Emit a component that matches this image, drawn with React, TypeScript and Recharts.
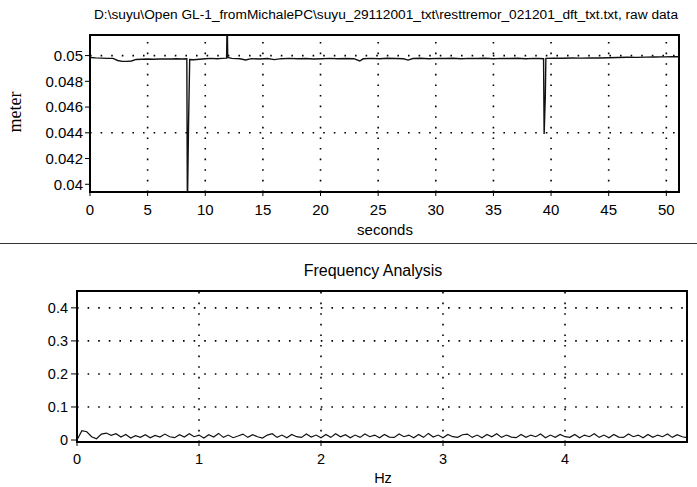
import React from 'react';
import { LineChart, Line, XAxis, YAxis, ReferenceLine, ReferenceArea } from 'recharts';

// raw data (seconds / meter)
const rawTime = [
  0, 0.5, 1, 1.5, 2, 2.4, 2.8, 3.2, 3.6, 4, 4.5, 5, 5.5, 6, 6.5, 7, 7.5, 8, 8.4, 8.45,
  8.55, 8.65, 9, 9.5, 10, 10.5, 11, 11.5, 11.85, 11.9, 11.95, 12.3, 13, 13.5, 14, 14.7,
  15.4, 16, 16.6, 17.3, 18, 18.7, 19.4, 20.1, 20.8, 21.5, 22.2, 22.9, 23.4, 23.7, 24.4,
  25.1, 25.8, 26.5, 27.2, 27.6, 28, 28.7, 29.4, 30.1, 30.8, 31.5, 32.2, 32.9, 33.6, 34.3,
  35, 35.7, 36.4, 37.1, 37.8, 38.5, 39, 39.35, 39.4, 39.5, 39.55, 40.2, 41, 41.8, 42.6,
  43.4, 44.2, 45, 45.8, 46.6, 47.4, 48.2, 49, 49.8, 50.5, 51.1,
];
const rawMeter = [
  0.04985, 0.04982, 0.0498, 0.04978, 0.04978, 0.04962, 0.04955, 0.04955, 0.04958, 0.0497,
  0.04972, 0.04973, 0.04972, 0.04974, 0.04973, 0.04974, 0.04975, 0.04974, 0.04975, 0.038,
  0.0447, 0.0497, 0.04968, 0.04972, 0.04975, 0.04978, 0.04976, 0.04978, 0.0498, 0.053,
  0.04985, 0.04978, 0.04975, 0.04966, 0.04976, 0.04974, 0.04977, 0.04969, 0.04976, 0.04978,
  0.04975, 0.04977, 0.04974, 0.04976, 0.04978, 0.04975, 0.04977, 0.04976, 0.04958, 0.04975,
  0.04978, 0.04976, 0.04979, 0.04977, 0.04975, 0.04965, 0.04977, 0.04979, 0.04976, 0.04978,
  0.04977, 0.04979, 0.04976, 0.04978, 0.04977, 0.04979, 0.04976, 0.04978, 0.04977, 0.04979,
  0.04976, 0.04978, 0.04977, 0.04976, 0.0439, 0.0468, 0.04978, 0.0498, 0.04979, 0.04981,
  0.0498, 0.04982, 0.04981, 0.04983, 0.04985, 0.04987, 0.04986, 0.04988, 0.04989, 0.0499,
  0.04991, 0.04991,
];
const rawXTicks = [0, 5, 10, 15, 20, 25, 30, 35, 40, 45, 50];
const rawYTicks = [0.04, 0.042, 0.044, 0.046, 0.048, 0.05];
const rawYGrid = [0.05, 0.044];

// frequency analysis (Hz bins every 0.04)
const FREQ_STEP = 0.04;
const freqAmp = [
  0.000, 0.028, 0.025, 0.010, 0.004, 0.018, 0.021, 0.014, 0.019, 0.009,
  0.017, 0.006, 0.013, 0.008, 0.016, 0.007, 0.014, 0.009, 0.018, 0.010,
  0.007, 0.016, 0.009, 0.019, 0.010, 0.015, 0.006, 0.016, 0.009, 0.020,
  0.008, 0.015, 0.007, 0.012, 0.018, 0.008, 0.016, 0.010, 0.006, 0.015,
  0.019, 0.008, 0.015, 0.007, 0.017, 0.010, 0.008, 0.018, 0.009, 0.015,
  0.007, 0.017, 0.008, 0.019, 0.010, 0.016, 0.007, 0.015, 0.008, 0.018,
  0.010, 0.015, 0.007, 0.017, 0.009, 0.008, 0.018, 0.010, 0.015, 0.007,
  0.017, 0.008, 0.020, 0.009, 0.015, 0.007, 0.017, 0.010, 0.008, 0.016,
  0.018, 0.008, 0.015, 0.007, 0.017, 0.010, 0.019, 0.008, 0.015, 0.009,
  0.007, 0.017, 0.008, 0.015, 0.010, 0.018, 0.007, 0.015, 0.008, 0.017,
  0.010, 0.008, 0.017, 0.007, 0.015, 0.010, 0.019, 0.008, 0.015, 0.007,
  0.017, 0.009, 0.008, 0.018, 0.010, 0.015, 0.007, 0.017, 0.008, 0.015,
  0.010, 0.018, 0.008, 0.016, 0.010, 0.007,
];
const freqXTicks = [0, 1, 2, 3, 4];
const freqYTicks = [0, 0.1, 0.2, 0.3, 0.4];

const RAW_X: [number, number] = [0, 51.1];
const RAW_Y: [number, number] = [0.0394, 0.0516];
const FREQ_X: [number, number] = [0, 5];
const FREQ_Y: [number, number] = [-0.006, 0.451];

const rawData = rawTime.map((t, i) => ({ t, v: rawMeter[i] }));
const freqData = freqAmp.map((a, i) => ({ hz: +(i * FREQ_STEP).toFixed(2), a }));

const FONT = '"Liberation Sans", Arial, sans-serif';
const topTick = { fontFamily: FONT, fontSize: 15, fill: '#000' };
const botTick = { fontFamily: FONT, fontSize: 14.5, fill: '#000' };

const Label = ({ x, y, children, size = 15, font = FONT, rotate = 0 }: any) => (
  <div
    style={{
      position: 'absolute', left: x, top: y, fontFamily: font, fontSize: size, color: '#000',
      whiteSpace: 'nowrap', transform: `translate(-50%, -50%) rotate(${rotate}deg)`, lineHeight: 1,
    }}
  >
    {children}
  </div>
);

export default function App() {
  return (
    <div style={{ position: 'absolute', left: 0, top: 0, width: 697, height: 487, background: '#fff', overflow: 'hidden' }}>
      <Label x={386} y={15} size={13.7}>D:\suyu\Open GL-1_fromMichalePC\suyu_29112001_txt\resttremor_021201_dft_txt.txt, raw data</Label>
      <Label x={15} y={112} size={18} font='"Liberation Serif", serif' rotate={-90}>meter</Label>
      <Label x={385} y={229}>seconds</Label>

      <div style={{ position: 'absolute', left: 0, top: 0 }}>
        <LineChart width={697} height={240} data={rawData} margin={{ top: 35, right: 18, left: 0, bottom: 0 }}>
          <XAxis dataKey="t" type="number" domain={RAW_X} ticks={rawXTicks} allowDataOverflow
            axisLine={false} tickSize={4} tickMargin={8} tick={topTick} tickLine={{ stroke: '#000' }} height={48} />
          <YAxis type="number" domain={RAW_Y} ticks={rawYTicks} allowDataOverflow width={90}
            axisLine={false} tickSize={5} tickMargin={2} tick={topTick} tickLine={{ stroke: '#000' }} />
          {rawXTicks.filter((t) => t > 0).map((t) => (
            <ReferenceLine key={t} x={t} stroke="#000" strokeWidth={1.6} strokeDasharray="1.6 9" />
          ))}
          {rawYGrid.map((v) => (
            <ReferenceLine key={v} y={v} stroke="#000" strokeWidth={1.6} strokeDasharray="1.6 9" />
          ))}
          <Line dataKey="v" stroke="#111" strokeWidth={1.4} dot={false} isAnimationActive={false} type="linear" />
          <ReferenceArea x1={RAW_X[0]} x2={RAW_X[1]} y1={RAW_Y[0]} y2={RAW_Y[1]} fill="none" stroke="#000" strokeWidth={2} fillOpacity={0} />
        </LineChart>
      </div>

      <div style={{ position: 'absolute', left: 0, top: 243, width: 697, height: 1, background: '#333' }} />

      <Label x={373} y={271} size={16}>Frequency Analysis</Label>
      <Label x={383} y={478} size={14.5}>Hz</Label>

      <div style={{ position: 'absolute', left: 0, top: 245 }}>
        <LineChart width={697} height={242} data={freqData} margin={{ top: 46, right: 10, left: 0, bottom: 0 }}>
          <XAxis dataKey="hz" type="number" domain={FREQ_X} ticks={freqXTicks} allowDataOverflow
            axisLine={false} tickSize={4} tickMargin={8} tick={botTick} tickLine={{ stroke: '#000' }} height={45} />
          <YAxis type="number" domain={FREQ_Y} ticks={freqYTicks} allowDataOverflow width={77}
            axisLine={false} tickSize={6} tickMargin={3} tick={botTick} tickLine={{ stroke: '#000' }} />
          {freqXTicks.filter((t) => t > 0).map((t) => (
            <ReferenceLine key={t} x={t} stroke="#000" strokeWidth={1.6} strokeDasharray="1.6 9" />
          ))}
          {freqYTicks.filter((t) => t > 0).map((v) => (
            <ReferenceLine key={v} y={v} stroke="#000" strokeWidth={1.6} strokeDasharray="1.6 9" />
          ))}
          <Line dataKey="a" stroke="#111" strokeWidth={1.2} dot={false} isAnimationActive={false} type="linear" />
          <ReferenceArea x1={FREQ_X[0]} x2={FREQ_X[1]} y1={FREQ_Y[0]} y2={FREQ_Y[1]} fill="none" stroke="#000" strokeWidth={2} fillOpacity={0} />
        </LineChart>
      </div>
    </div>
  );
}
